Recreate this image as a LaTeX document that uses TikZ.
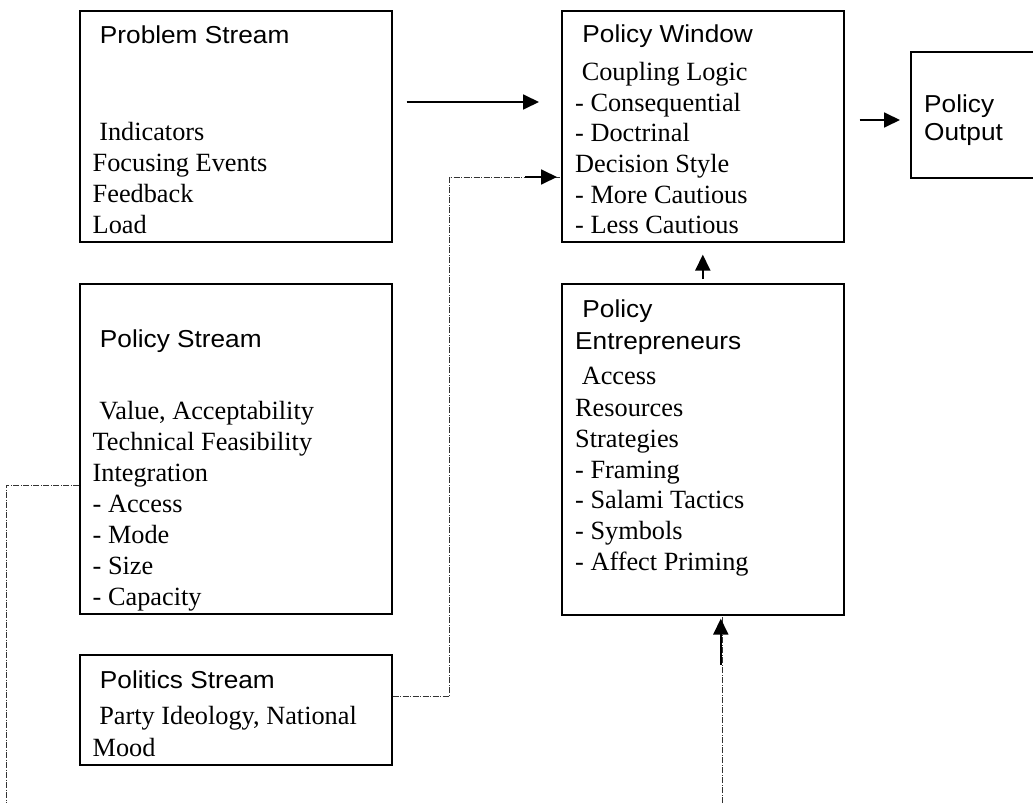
\documentclass[tikz,border=0pt]{standalone}
\usepackage{fontspec}
\setmainfont{Liberation Serif}
\newfontfamily\headfont[FakeStretch=1.07]{Liberation Sans}
\usetikzlibrary{arrows.meta,calc}

\tikzset{
  panel/.style={draw, line width=1.6pt, fill=white, inner sep=0pt, anchor=north west},
  txt/.style={anchor=base west, inner sep=0pt, font=\fontsize{26.3}{31}\selectfont},
  hd/.style={anchor=base west, inner sep=0pt, font=\headfont\fontsize{24.5}{28}\selectfont},
  flow/.style={line width=1.8pt, -{Triangle[length=16pt,width=15pt]}},
  feedback/.style={line width=0.9pt, black!80, dash pattern=on 6pt off 1.5pt on 1pt off 1.5pt}
}

\begin{document}
\begin{tikzpicture}[x=1pt,y=-1pt]
\useasboundingbox (0,0) rectangle (1033,803);

% boxes
\node[panel, minimum width=312pt, minimum height=231pt] (prob) at (79,10) {};
\node[panel, minimum width=282pt, minimum height=231pt] (win)  at (561,10) {};
\node[panel, minimum width=130pt, minimum height=126pt] (out)  at (910,51) {};
\node[panel, minimum width=312pt, minimum height=330pt] (pstr) at (79,283) {};
\node[panel, minimum width=282pt, minimum height=331pt] (ent)  at (561,283) {};
\node[panel, minimum width=312pt, minimum height=110pt] (pol)  at (79,654) {};

% problem stream
\node[hd] (prob-h) at (92.5,43) {\ Problem Stream};
\foreach \t/\y [count=\i] in {{\ Indicators}/140, {Focusing Events}/171, {Feedback}/202, {Load}/233}
  \node[txt] (prob-\i) at (92.5,\y) {\t};

% policy window
\node[hd] (win-h) at (575,42) {\ Policy Window};
\foreach \t/\y [count=\i] in {{\ Coupling Logic}/80, {- Consequential}/111, {- Doctrinal}/141,
    {Decision Style}/172, {- More Cautious}/203, {- Less Cautious}/233}
  \node[txt] (win-\i) at (575,\y) {\t};

% policy output
\node[hd] (out-1) at (924,112) {Policy};
\node[hd] (out-2) at (924,140) {Output};

% policy stream
\node[hd] (pstr-h) at (92.5,347) {\ Policy Stream};
\foreach \t/\y [count=\i] in {{\ Value, Acceptability}/419, {Technical Feasibility}/450, {Integration}/481,
    {- Access}/512, {- Mode}/543, {- Size}/574, {- Capacity}/605}
  \node[txt] (pstr-\i) at (92.5,\y) {\t};

% policy entrepreneurs
\node[hd] (ent-h1) at (575,317) {\ Policy};
\node[hd] (ent-h2) at (575,349) {Entrepreneurs};
\foreach \t/\y [count=\i] in {{\ Access}/384, {Resources}/416, {Strategies}/447, {- Framing}/478,
    {- Salami Tactics}/508, {- Symbols}/539, {- Affect Priming}/570}
  \node[txt] (ent-\i) at (575,\y) {\t};

% politics stream
\node[hd] (pol-h) at (92.5,688) {\ Politics Stream};
\node[txt] (pol-1) at (92.5,724) {\ Party Ideology, National};
\node[txt] (pol-2) at (92.5,756) {Mood};

% main flow
\draw[flow] ($(prob.north east)+(14,92)$) -- ($(win.north west)+(-22,92)$);
\draw[flow] ($(win.north east)+(15,110)$) -- ($(out.north west)+(-10,69)$);
\draw[flow] ($(ent.north)+(0,-4)$) -- ($(win.south)+(0,12)$);

% feedback lines
\coordinate (psEnd) at (6,803);
\coordinate (entEnd) at (722,803);
\draw[feedback] ($(pstr.north west)+(0,202)$) -| (psEnd);
\draw[feedback] ($(pol.north east)+(0,42)$) -- ++(57,0) |- ($(win.north west)+(0,167)$);
\draw[flow] ($(win.north west)+(-36,167)$) -- ($(win.north west)+(-4,167)$);
\draw[feedback] (entEnd) -- (entEnd |- ent.south);
\draw[flow] ($(ent.south)+(18,49)$) -- ($(ent.south)+(18,3)$);
\end{tikzpicture}
\end{document}
